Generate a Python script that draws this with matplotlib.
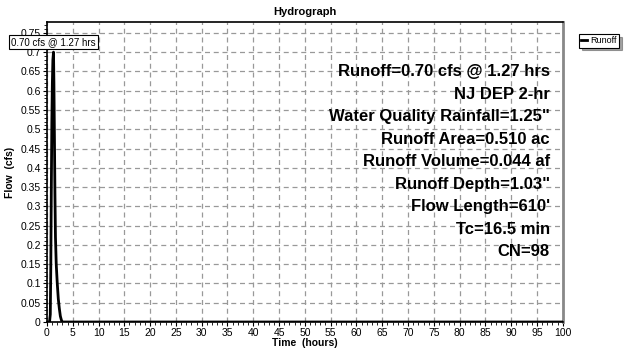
import numpy as np
import matplotlib
matplotlib.use('Agg')
import matplotlib.pyplot as plt
from matplotlib.ticker import MultipleLocator

# hydrogramme (heures, cfs)
temps = [0, 0.5, 0.65, 0.75, 0.85, 0.95, 1.05, 1.15, 1.27, 1.35, 1.45, 1.55, 1.65,
         1.8, 2.0, 2.2, 2.4, 2.6, 2.8, 3.0, 100]
debit = [0, 0, 0.02, 0.15, 0.35, 0.52, 0.62, 0.68, 0.70, 0.62, 0.48, 0.33, 0.22,
         0.15, 0.10, 0.06, 0.035, 0.015, 0.005, 0, 0]

titre = "Hydrograph"
label_pic = "0.70 cfs @ 1.27 hrs"
infos = ["Runoff=0.70 cfs @ 1.27 hrs", "NJ DEP 2-hr", 'Water Quality Rainfall=1.25"',
         "Runoff Area=0.510 ac", "Runoff Volume=0.044 af", 'Runoff Depth=1.03"',
         "Flow Length=610'", "Tc=16.5 min", "CN=98"]
t_pic, q_pic = 1.27, 0.70

plt.rcParams['font.family'] = ['Liberation Sans', 'DejaVu Sans']

fig = plt.figure(figsize=(6.26, 3.5), dpi=100)
ax = fig.add_axes([0.075, 0.08, 0.824, 0.857])

ax.plot(temps, debit, color='black', lw=2, label='Runoff', zorder=3)

ax.set_xlim(0, 100)
ax.set_ylim(0, 0.778)
ax.xaxis.set_major_locator(MultipleLocator(5))
ax.xaxis.set_minor_locator(MultipleLocator(1))
ax.yaxis.set_major_locator(MultipleLocator(0.05))
ax.yaxis.set_minor_locator(MultipleLocator(0.01))
ax.set_yticks(np.arange(0, 0.76, 0.05))
ax.set_yticklabels(['0'] + [('%.2f' % v).rstrip('0') for v in np.arange(0.05, 0.76, 0.05)])
ax.tick_params(axis='both', which='major', labelsize=7.5, length=3, width=0.8, pad=1.5)
ax.tick_params(axis='both', which='minor', length=2, width=0.6)
ax.grid(True, which='major', color='#999999', ls=(0, (4, 3)), lw=0.9)

for s in ['top', 'left', 'bottom']:
    ax.spines[s].set_linewidth(1.2)
ax.spines['right'].set_color('#888888')
ax.spines['right'].set_linewidth(2)

ax.set_title(titre, fontsize=8, fontweight='bold', pad=5)
ax.set_xlabel("Time  (hours)", fontsize=7.5, fontweight='bold', labelpad=0)
ax.set_ylabel("Flow  (cfs)", fontsize=7.5, fontweight='bold', labelpad=4)

# etiquette du pic
ax.annotate(label_pic, xy=(t_pic, q_pic), xytext=(t_pic, 0.727), ha='center', va='center',
            fontsize=7, annotation_clip=False,
            bbox=dict(boxstyle='square,pad=0.2', fc='white', ec='black', lw=0.8), zorder=5)

# bloc de texte a droite
for i, ligne in enumerate(infos):
    ax.text(0.975, 0.835 - i * 0.0752, ligne, transform=ax.transAxes, ha='right', va='center',
            fontsize=12, fontweight='bold', zorder=4)

leg = ax.legend(loc='upper left', bbox_to_anchor=(1.031, 0.96), fontsize=6.5, frameon=True,
                fancybox=False, shadow=True, handlelength=0.7, handletextpad=0.3,
                borderpad=0.25, borderaxespad=0)
leg.get_frame().set_edgecolor('black')
leg.get_frame().set_linewidth(0.8)

fig.savefig('out.png', dpi=100)
